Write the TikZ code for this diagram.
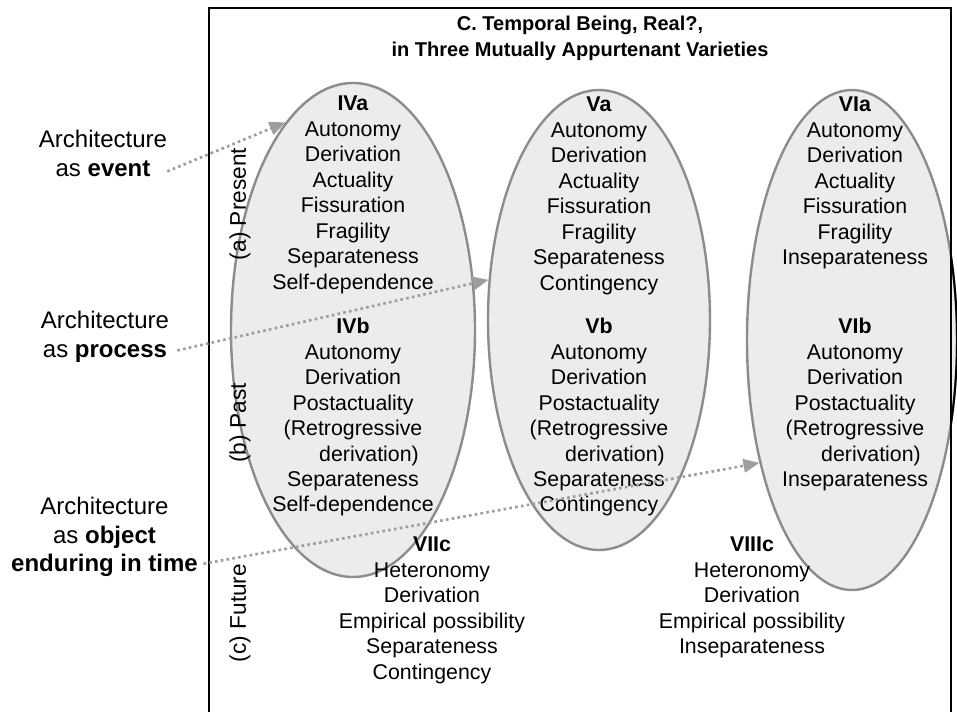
\documentclass[tikz,border=0pt]{standalone}
\usepackage{fontspec}
\setmainfont{Liberation Sans}
\usetikzlibrary{shapes.geometric, arrows.meta, positioning}
\definecolor{ovalfill}{RGB}{236, 236, 236}
\definecolor{ovalline}{RGB}{140, 140, 140}
\definecolor{pointgray}{RGB}{158, 158, 158}

\begin{document}
\begin{tikzpicture}[
    x=0.75pt, y=-0.75pt,
    oval/.style={
        ellipse, draw=ovalline, fill=ovalfill,
        line width=1.8pt, inner sep=0pt
    },
    cell/.style={
        align=center, inner sep=0pt, anchor=north,
        font=\fontsize{16}{19.1}\selectfont
    },
    side/.style={
        align=center, inner sep=0pt, anchor=north,
        font=\fontsize{18}{21.4}\selectfont
    },
    phase/.style={rotate=90, inner sep=0pt, font=\fontsize{17}{20}\selectfont},
    pointer/.style={
        draw=pointgray, line width=2pt, dash pattern=on 2pt off 2.4pt,
        -{Triangle[length=12pt, width=10pt]}
    }
]
\useasboundingbox (0,0) rectangle (957,711);

% ==============================================================================
% THREE VARIETIES (OVALS)
% ==============================================================================
\node[oval, minimum width=183pt, minimum height=370.5pt] (ovalIV) at (353,330) {};
\node[oval, minimum width=166.5pt, minimum height=345pt] (ovalV) at (599,320) {};
\node[oval, minimum width=157.5pt, minimum height=375pt] (ovalVI) at (852,340) {};

% part of the right oval that sticks out of the frame
\begin{scope}
    \clip (952,0) rectangle (960,711);
    \draw[line width=1.5pt] (ovalVI.center) ellipse (78.75pt and 187.5pt);
\end{scope}

% frame
\draw[line width=2pt] (209,725) -- (209,8) -- (951,8) -- (951,725);

\node[align=center, inner sep=0pt, anchor=north,
      font=\bfseries\fontsize{15}{19.5}\selectfont] (title) at (580,16)
    {C. Temporal Being, Real?,\\in Three Mutually Appurtenant Varieties};

% ==============================================================================
% (a) PRESENT
% ==============================================================================
\node[cell] (IVa) at (353,96) {
    \textbf{IVa}\\Autonomy\\Derivation\\Actuality\\Fissuration\\Fragility\\
    Separateness\\Self-dependence
};
\node[cell] (Va) at (599,97) {
    \textbf{Va}\\Autonomy\\Derivation\\Actuality\\Fissuration\\Fragility\\
    Separateness\\Contingency
};
\node[cell] (VIa) at (855,97) {
    \textbf{VIa}\\Autonomy\\Derivation\\Actuality\\Fissuration\\Fragility\\
    Inseparateness
};

% ==============================================================================
% (b) PAST
% ==============================================================================
\node[cell] (IVb) at (353,318) {
    \textbf{IVb}\\Autonomy\\Derivation\\Postactuality\\(Retrogressive\\
    \hspace*{1.5em}derivation)\\Separateness\\Self-dependence
};
\node[cell] (Vb) at (599,318) {
    \textbf{Vb}\\Autonomy\\Derivation\\Postactuality\\(Retrogressive\\
    \hspace*{1.5em}derivation)\\Separateness\\Contingency
};
\node[cell] (VIb) at (855,318) {
    \textbf{VIb}\\Autonomy\\Derivation\\Postactuality\\(Retrogressive\\
    \hspace*{1.5em}derivation)\\Inseparateness
};

% ==============================================================================
% (c) FUTURE
% ==============================================================================
\node[cell] (VIIc) at (432,537) {
    \textbf{VIIc}\\Heteronomy\\Derivation\\Empirical possibility\\
    Separateness\\Contingency
};
\node[cell] (VIIIc) at (752,537) {
    \textbf{VIIIc}\\Heteronomy\\Derivation\\Empirical possibility\\
    Inseparateness
};

\node[phase] (present) at (240,204) {(a) Present};
\node[phase] (past) at (240,423) {(b) Past};
\node[phase] (future) at (240,613) {(c) Future};

% ==============================================================================
% ARCHITECTURE AS ...
% ==============================================================================
\node[side] (event) at (103,130) {Architecture\\as \textbf{event}};
\node[side] (process) at (105,311) {Architecture\\as \textbf{process}};
\node[side] (object) at (104.5,497) {Architecture\\as \textbf{object}\\\textbf{enduring in time}};

\draw[pointer] ([yshift=4pt]event.south east) -- (ovalIV.108);
\draw[pointer] ([xshift=6pt, yshift=9pt]process.south east) -- (ovalV.160);
\draw[pointer] ([xshift=4pt, yshift=10pt]object.south east) -- (ovalVI.233);

\end{tikzpicture}
\end{document}
